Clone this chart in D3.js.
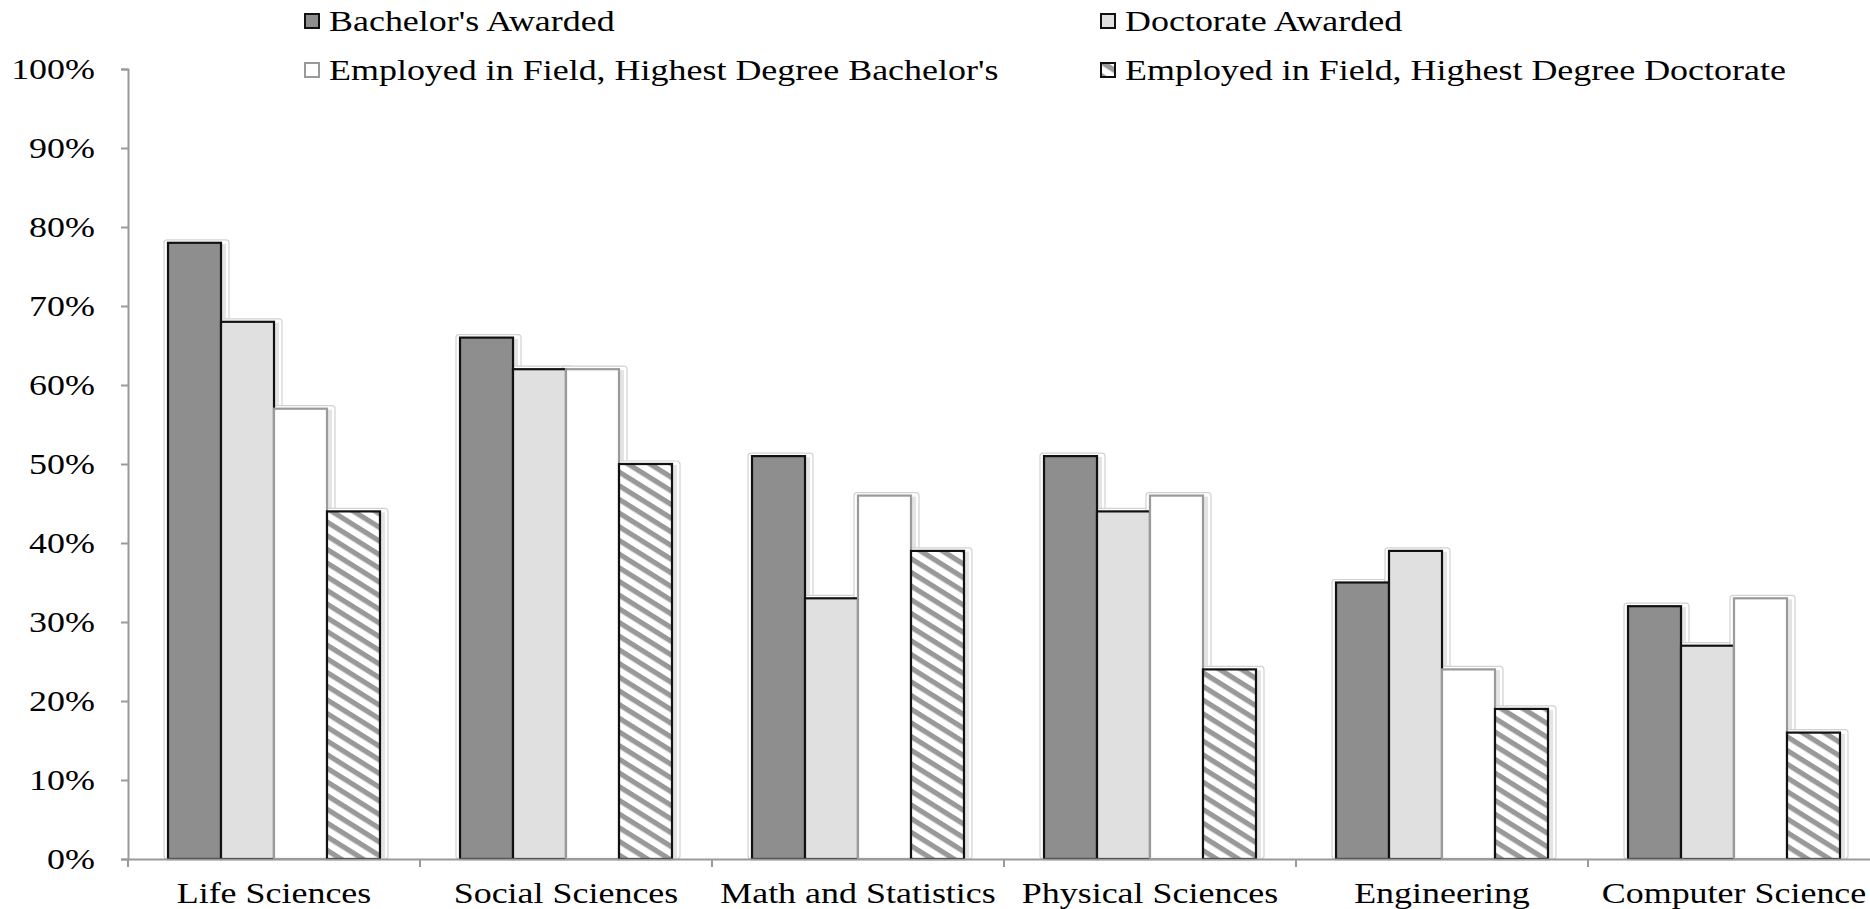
<!DOCTYPE html>
<html><head><meta charset="utf-8">
<script src="https://cdn.jsdelivr.net/npm/d3@7"></script>
<style>
html,body{margin:0;padding:0;background:#fff;}
svg{display:block;}
text{font-family:"Liberation Serif","Times New Roman",serif;fill:#000;}
</style></head>
<body>
<svg id="chart" width="1870" height="909"></svg>
<script>
const categories = ["Life Sciences","Social Sciences","Math and Statistics","Physical Sciences","Engineering","Computer Science"];
const seriesNames = ["Bachelor's Awarded","Doctorate Awarded","Employed in Field, Highest Degree Bachelor's","Employed in Field, Highest Degree Doctorate"];
const bachelorsAwarded = [0.78,0.66,0.51,0.51,0.35,0.32];
const doctorateAwarded = [0.68,0.62,0.33,0.44,0.39,0.27];
const employedBachelors = [0.57,0.62,0.46,0.46,0.24,0.33];
const employedDoctorate = [0.44,0.50,0.39,0.24,0.19,0.16];
const yTicks = [0,0.1,0.2,0.3,0.4,0.5,0.6,0.7,0.8,0.9,1.0];

const seriesValues = [bachelorsAwarded, doctorateAwarded, employedBachelors, employedDoctorate];
const fills = ["#8e8e8e","#e0e0e0","#ffffff","url(#hatch)"];
const strokes = ["#111","#111","#9a9a9a","#111"];

const svg = d3.select("#chart");
const defs = svg.append("defs");
const pat = defs.append("pattern").attr("id","hatch").attr("patternUnits","userSpaceOnUse")
  .attr("width",11.6).attr("height",11.6).attr("patternTransform","rotate(32)");
pat.append("rect").attr("width",11.6).attr("height",11.6).attr("fill","#fff");
pat.append("rect").attr("width",11.6).attr("height",5.2).attr("fill","#999");

const x0 = d3.scaleBand().domain(categories).range([128, 128 + 6*292]).padding(0);
const x1 = d3.scaleBand().domain(d3.range(4)).range([0, x0.bandwidth()]).paddingInner(0).paddingOuter(0.755);
const y = d3.scaleLinear().domain([0,1]).range([859, 69]);

const FS = 29, SX = 1.24;
function stretchedText(parent, x, yy, str, anchor, size){
  const g = parent.append("g").attr("transform",`translate(${x},${yy}) scale(${SX},1)`);
  g.append("text").attr("x",0).attr("y",0).attr("text-anchor",anchor||"start")
    .style("font-size",(size||FS)+"px").text(str);
  return g;
}

// y axis
const yAxisG = svg.append("g").attr("transform","translate(128,0)")
  .call(d3.axisLeft(y).tickValues(yTicks).tickFormat(d3.format(".0%")).tickSize(7).tickPadding(10));
yAxisG.select(".domain").attr("stroke","#9a9a9a").attr("stroke-width",2);
yAxisG.selectAll(".tick line").attr("stroke","#9a9a9a").attr("stroke-width",2);
yAxisG.selectAll(".tick text").remove();
yTicks.forEach(t => stretchedText(svg, 95, y(t)+10, d3.format(".0%")(t), "end"));

// shadows
const groups = svg.append("g");
categories.forEach((c,ci) => {
  seriesValues.forEach((vals,si) => {
    const bx = x0(c) + x1(si), bw = x1.bandwidth(), by = y(vals[ci]), bh = y(0) - y(vals[ci]);
    groups.append("rect").attr("x",bx-4).attr("y",by-3).attr("width",bw+12).attr("height",bh+3)
      .attr("rx",3).attr("fill","#fff").attr("stroke","#d2d2d2").attr("stroke-width",1.2);
    groups.append("rect").attr("x",bx+bw).attr("y",by+1).attr("width",5).attr("height",bh-1)
      .attr("fill","#e4e4e4");
  });
});

// bars
categories.forEach((c,ci) => {
  seriesValues.forEach((vals,si) => {
    svg.append("rect").attr("x",x0(c)+x1(si)).attr("y",y(vals[ci]))
      .attr("width",x1.bandwidth()).attr("height",y(0)-y(vals[ci]))
      .attr("fill",fills[si]).attr("stroke",strokes[si]).attr("stroke-width",2.2);
  });
});

// x axis
const xAxisG = svg.append("g").attr("transform","translate(0,859)")
  .call(d3.axisBottom(x0).tickSize(0).tickFormat(""));
xAxisG.select(".domain").attr("stroke","#9a9a9a").attr("stroke-width",2);
const bounds = d3.range(categories.length+1).map(i => 128 + i*x0.step());
svg.selectAll(".xtick").data(bounds).join("line").attr("class","xtick")
  .attr("x1",d=>d).attr("x2",d=>d).attr("y1",859).attr("y2",867)
  .attr("stroke","#9a9a9a").attr("stroke-width",2);
categories.forEach(c => stretchedText(svg, x0(c)+x0.bandwidth()/2, 903, c, "middle"));

// legend
const legendPos = [[305,21],[1101,21],[305,70],[1101,70]];
seriesNames.forEach((n,i) => {
  const [lx,ly] = legendPos[i];
  svg.append("rect").attr("x",lx).attr("y",ly-7).attr("width",14).attr("height",14)
    .attr("fill",fills[i]).attr("stroke",strokes[i]).attr("stroke-width",2);
  stretchedText(svg, lx+24, ly+10, n, "start");
});
</script>
</body></html>
